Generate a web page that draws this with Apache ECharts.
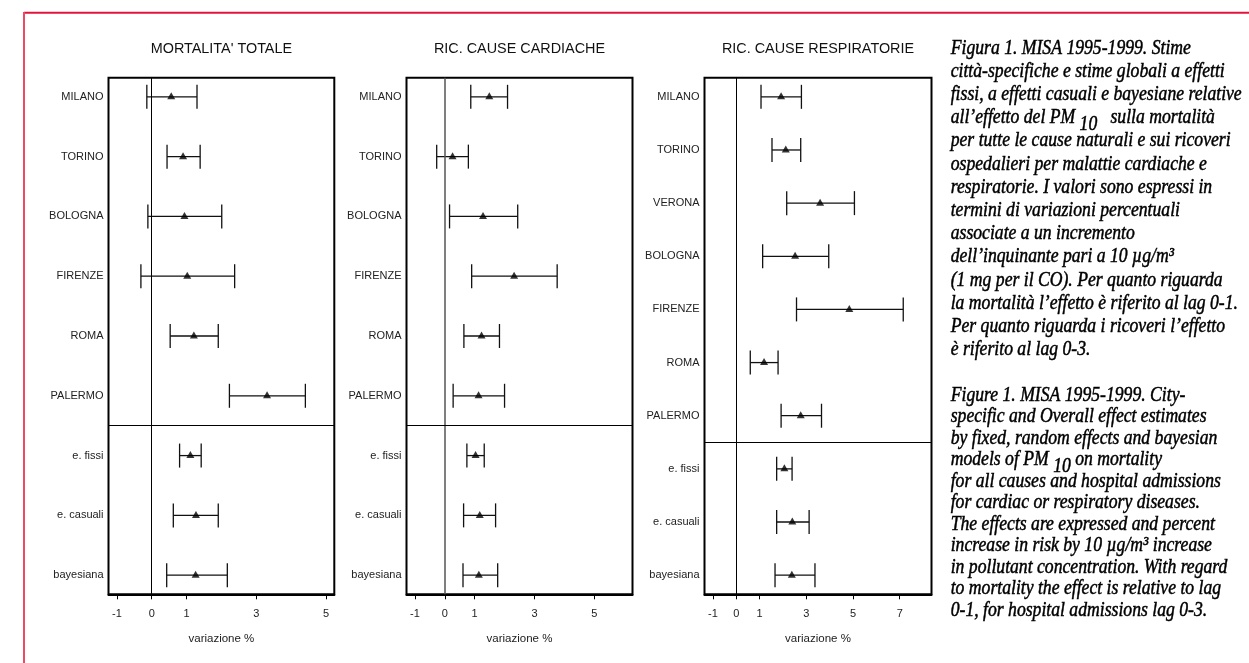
<!DOCTYPE html>
<html>
<head>
<meta charset="utf-8">
<script src="https://cdn.jsdelivr.net/npm/echarts@6/dist/echarts.min.js"></script>
<style>
html,body{margin:0;padding:0;background:#fff;}
#chart{width:1249px;height:663px;}
</style>
</head>
<body>
<div id="chart"></div>
<script>
// ---------- DATA ----------
const mortTitle = "MORTALITA' TOTALE";
const cardTitle = "RIC. CAUSE CARDIACHE";
const respTitle = "RIC. CAUSE RESPIRATORIE";
const axisName = "variazione %";

const mortLabels = ['MILANO','TORINO','BOLOGNA','FIRENZE','ROMA','PALERMO','e. fissi','e. casuali','bayesiana'];
const mortEst  = [0.56, 0.90, 0.94, 1.02, 1.21, 3.31, 1.11, 1.27, 1.26];
const mortLow  = [-0.14, 0.44, -0.11, -0.31, 0.53, 2.23, 0.80, 0.62, 0.43];
const mortHigh = [1.30, 1.39, 2.01, 2.38, 1.91, 4.41, 1.42, 1.91, 2.17];
const mortTicks = [-1, 0, 1, 3, 5];

const cardLabels = ['MILANO','TORINO','BOLOGNA','FIRENZE','ROMA','PALERMO','e. fissi','e. casuali','bayesiana'];
const cardEst  = [1.49, 0.26, 1.28, 2.32, 1.23, 1.13, 1.03, 1.17, 1.14];
const cardLow  = [0.87, -0.27, 0.16, 0.90, 0.64, 0.28, 0.74, 0.63, 0.61];
const cardHigh = [2.10, 0.79, 2.44, 3.76, 1.83, 2.00, 1.32, 1.70, 1.77];
const cardTicks = [-1, 0, 1, 3, 5];

const respLabels = ['MILANO','TORINO','VERONA','BOLOGNA','FIRENZE','ROMA','PALERMO','e. fissi','e. casuali','bayesiana'];
const respEst  = [1.92, 2.12, 3.59, 2.52, 4.84, 1.19, 2.76, 2.06, 2.40, 2.38];
const respLow  = [1.06, 1.53, 2.16, 1.13, 2.58, 0.60, 1.92, 1.73, 1.73, 1.66];
const respHigh = [2.79, 2.76, 5.06, 3.96, 7.15, 1.79, 3.65, 2.39, 3.12, 3.37];
const respTicks = [-1, 0, 1, 3, 5, 7];

const captionIt = [
  ["Figura 1. MISA 1995-1999. Stime"],
  ["città-specifiche e stime globali a effetti"],
  ["fissi, a effetti casuali e bayesiane relative"],
  ["all’effetto del PM", " 10", "   sulla mortalità"],
  ["per tutte le cause naturali e sui ricoveri"],
  ["ospedalieri per malattie cardiache e"],
  ["respiratorie. I valori sono espressi in"],
  ["termini di variazioni percentuali"],
  ["associate a un incremento"],
  ["dell’inquinante pari a 10 µg/m³"],
  ["(1 mg per il CO). Per quanto riguarda"],
  ["la mortalità l’effetto è riferito al lag 0-1."],
  ["Per quanto riguarda i ricoveri l’effetto"],
  ["è riferito al lag 0-3."]
];
const captionEn = [
  ["Figure 1. MISA 1995-1999. City-"],
  ["specific and Overall effect estimates"],
  ["by fixed, random effects and bayesian"],
  ["models of PM", " 10", " on mortality"],
  ["for all causes and hospital admissions"],
  ["for cardiac or respiratory diseases."],
  ["The effects are expressed and percent"],
  ["increase in risk by 10 µg/m³ increase"],
  ["in pollutant concentration. With regard"],
  ["to mortality the effect is relative to lag"],
  ["0-1, for hospital admissions lag 0-3."]
];

// ---------- LAYOUT ----------
const SANS = '"Liberation Sans", Arial, Helvetica, sans-serif';
const SERIF = '"Liberation Serif", "Times New Roman", serif';
const panels = [
  {title: mortTitle, labels: mortLabels, est: mortEst, low: mortLow, high: mortHigh, ticks: mortTicks,
   left: 108.5, width: 225.8, xmin: -1.24, xmax: 5.24, ypad: 0.32, divider: 5.5, zeroColor: '#000', zeroWidth: 1},
  {title: cardTitle, labels: cardLabels, est: cardEst, low: cardLow, high: cardHigh, ticks: cardTicks,
   left: 406.5, width: 226, xmin: -1.28, xmax: 6.28, ypad: 0.32, divider: 5.5, zeroColor: '#555', zeroWidth: 1.5},
  {title: respTitle, labels: respLabels, est: respEst, low: respLow, high: respHigh, ticks: respTicks,
   left: 704.5, width: 227, xmin: -1.36, xmax: 8.36, ypad: 0.36, divider: 6.5, zeroColor: '#000', zeroWidth: 1}
];
const gTop = 77.7, gHeight = 516.6;

const grids = [], xAxes = [], yAxes = [], series = [], graphics = [];

panels.forEach((p, k) => {
  grids.push({left: p.left, top: gTop, width: p.width, height: gHeight, show: true,
              borderColor: '#000', borderWidth: 2, backgroundColor: 'transparent'});
  xAxes.push({
    type: 'value', gridIndex: k, min: p.xmin, max: p.xmax,
    name: axisName, nameLocation: 'middle', nameGap: 39,
    nameTextStyle: {fontFamily: SANS, fontSize: 11.5, color: '#222'},
    splitLine: {show: false},
    axisLine: {show: true, onZero: false, lineStyle: {color: '#000', width: 2}},
    axisTick: {show: true, length: 5, customValues: p.ticks, lineStyle: {color: '#000', width: 1}},
    axisLabel: {customValues: p.ticks, fontFamily: SANS, fontSize: 11, color: '#222', margin: 14,
                formatter: v => String(v)}
  });
  const n = p.labels.length;
  yAxes.push({
    type: 'value', gridIndex: k, inverse: true, min: -p.ypad, max: n - 1 + p.ypad,
    splitLine: {show: false},
    axisLine: {show: false, onZero: false},
    axisTick: {show: false},
    axisLabel: {customValues: p.labels.map((_, i) => i), fontFamily: SANS, fontSize: 11, color: '#222', margin: 5,
                formatter: v => p.labels[Math.round(v)]}
  });
  series.push({
    type: 'custom', xAxisIndex: k, yAxisIndex: k, silent: true,
    data: p.labels.map((_, i) => [i, p.low[i], p.high[i]]),
    encode: {x: [1, 2], y: 0},
    renderItem: (params, api) => {
      const r = api.value(0);
      const a = api.coord([api.value(1), r]);
      const b = api.coord([api.value(2), r]);
      const h = 12;
      const st = {stroke: '#111', lineWidth: 1.3};
      return {type: 'group', children: [
        {type: 'line', shape: {x1: a[0], y1: a[1], x2: b[0], y2: b[1]}, style: st},
        {type: 'line', shape: {x1: a[0], y1: a[1] - h, x2: a[0], y2: a[1] + h}, style: st},
        {type: 'line', shape: {x1: b[0], y1: b[1] - h, x2: b[0], y2: b[1] + h}, style: st}
      ]};
    }
  });
  series.push({
    type: 'scatter', xAxisIndex: k, yAxisIndex: k, silent: true,
    symbol: 'triangle', symbolSize: [8, 7], symbolOffset: [0, -1],
    itemStyle: {color: '#000'},
    data: p.est.map((v, i) => [v, i]),
    markLine: {
      silent: true, symbol: 'none', label: {show: false},
      lineStyle: {color: '#000', width: 1, type: 'solid'},
      data: [
        {xAxis: 0, lineStyle: {color: p.zeroColor, width: p.zeroWidth}},
        {yAxis: p.divider}
      ]
    }
  });
  graphics.push({type: 'text', x: p.left + p.width / 2, y: 49,
    style: {text: p.title, font: '14.4px ' + SANS, fill: '#111',
            textAlign: 'center', textVerticalAlign: 'middle', align: 'center', verticalAlign: 'middle'}});
});

// red frame
graphics.push({type: 'line', shape: {x1: 24, y1: 12.7, x2: 1249, y2: 12.7}, style: {stroke: '#e0143c', lineWidth: 2}});
graphics.push({type: 'line', shape: {x1: 24, y1: 12, x2: 24, y2: 663}, style: {stroke: '#ee4866', lineWidth: 2}});

// caption
const capFontSize = 21;
const capFont = 'italic ' + capFontSize + 'px ' + SERIF;
const ctx = document.createElement('canvas').getContext('2d');
ctx.font = capFont;
const sx = 291 / ctx.measureText("fissi, a effetti casuali e bayesiane relative").width;
function addCaption(lines, y0, dy) {
  lines.forEach((segs, i) => {
    let x = 950.7;
    const y = y0 + i * dy;
    segs.forEach((t, j) => {
      const sub = (segs.length > 1 && j === 1);
      graphics.push({type: 'text', x: x, y: sub ? y + 7 : y, scaleX: sx,
        style: {text: t, font: capFont, fill: '#000', stroke: '#000', lineWidth: 0.5,
                textAlign: 'left', textVerticalAlign: 'middle', align: 'left', verticalAlign: 'middle'}});
      x += ctx.measureText(t).width * sx;
    });
  });
}
addCaption(captionIt, 48, 23.2);
addCaption(captionEn, 395, 21.5);

const chart = echarts.init(document.getElementById('chart'), null, {renderer: 'canvas'});
chart.setOption({
  animation: false,
  backgroundColor: '#fff',
  grid: grids, xAxis: xAxes, yAxis: yAxes, series: series, graphic: graphics
});
</script>
</body>
</html>
